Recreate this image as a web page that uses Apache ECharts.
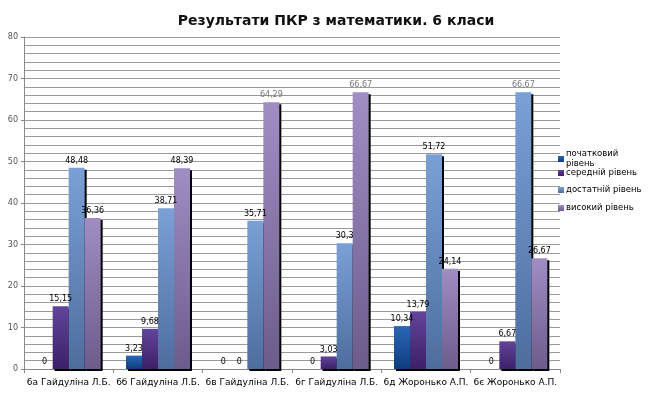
<!DOCTYPE html>
<html><head><meta charset="utf-8">
<script src="https://cdn.jsdelivr.net/npm/echarts@6/dist/echarts.min.js"></script>
<style>html,body{margin:0;padding:0;background:#fff}#c{width:666px;height:393px}</style>
</head><body><div id="c"></div>
<script>
const categories = ['6а Гайдуліна Л.Б.', '6б Гайдуліна Л.Б.', '6в Гайдуліна Л.Б.', '6г Гайдуліна Л.Б.', '6д Жоронько А.П.', '6є Жоронько А.П.'];
const seriesNames = ['початковий рівень', 'середній рівень', 'достатній рівень', 'високий рівень'];
const pochatkovyi = [0, 3.23, 0, 0, 10.34, 0];
const serednii = [15.15, 9.68, 0, 3.03, 13.79, 6.67];
const dostatnii = [48.48, 38.71, 35.71, 30.3, 51.72, 66.67];
const vysokyi = [36.36, 48.39, 64.29, 66.67, 24.14, 26.67];
const yTicks = [0, 10, 20, 30, 40, 50, 60, 70, 80];

const values = [pochatkovyi, serednii, dostatnii, vysokyi];
const grads = [['#2a66b8', '#0e3d7e'], ['#62449a', '#3c2068'], ['#7ba0d6', '#4d6d9e'], ['#a08dc2', '#6c5c8c']];
const legendTops = [144, 163, 180, 198];

const chart = echarts.init(document.getElementById('c'));
const barSeries = values.map((arr, i) => ({
  name: seriesNames[i],
  type: 'bar',
  barWidth: 16,
  barGap: '0%',
  xAxisIndex: 0,
  data: arr,
  itemStyle: {
    color: new echarts.graphic.LinearGradient(0, 0, 0, 1, [
      { offset: 0, color: grads[i][0] }, { offset: 1, color: grads[i][1] }
    ]),
    shadowColor: '#000', shadowOffsetX: 2, shadowOffsetY: 2, shadowBlur: 0
  }
}));
const labelSeries = values.map((arr, i) => ({
  name: seriesNames[i] + ' ',
  type: 'bar',
  barWidth: 16,
  barGap: '0%',
  xAxisIndex: 1,
  zlevel: 1,
  silent: true,
  data: arr.map(v => ({ value: v, label: { color: v > 60 ? '#777' : '#000' } })),
  itemStyle: { color: 'rgba(0,0,0,0)' },
  label: {
    show: true, position: 'top', distance: 3,
    fontFamily: 'DejaVu Sans', fontSize: 8,
    formatter: p => String(p.value).replace('.', ',')
  }
}));

const legends = seriesNames.map((n, i) => ({
  data: [n], orient: 'vertical', left: 553, top: legendTops[i],
  itemWidth: 6, itemHeight: 6, icon: 'rect', itemGap: 0,
  textStyle: { fontFamily: 'DejaVu Sans', fontSize: 8.5, color: '#000', padding: [0, 0, 0, -3], lineHeight: 10 },
  formatter: name => name === 'початковий рівень' ? 'початковий\nрівень' : name
}));

const xAxisBase = {
  type: 'category', data: categories,
  axisLine: { lineStyle: { color: '#888' } },
  axisTick: { show: true, length: 4, lineStyle: { color: '#888' } },
  axisLabel: { fontFamily: 'DejaVu Sans', fontSize: 9, color: '#000', margin: 9, interval: 0 }
};

chart.setOption({
  animation: false,
  title: {
    text: 'Результати ПКР з математики. 6 класи', left: 331, textAlign: 'center', top: 9,
    textStyle: { fontFamily: 'DejaVu Sans', fontSize: 14, fontWeight: 'bold', color: '#111' }
  },
  legend: legends,
  grid: { left: 24, right: 106, top: 37, bottom: 24 },
  xAxis: [xAxisBase, Object.assign({}, xAxisBase, { show: false })],
  yAxis: {
    type: 'value', min: yTicks[0], max: yTicks[yTicks.length - 1], interval: 10,
    axisLine: { show: true, lineStyle: { color: '#888' } },
    axisTick: { show: true, length: 3, lineStyle: { color: '#888' } },
    axisLabel: { fontFamily: 'DejaVu Sans', fontSize: 8, color: '#555', margin: 6 },
    splitLine: { lineStyle: { color: '#9a9a9a' } },
    minorTick: { show: false, splitNumber: 5 },
    minorSplitLine: { show: true, lineStyle: { color: '#9a9a9a' } }
  },
  series: barSeries.concat(labelSeries)
});
</script></body></html>
